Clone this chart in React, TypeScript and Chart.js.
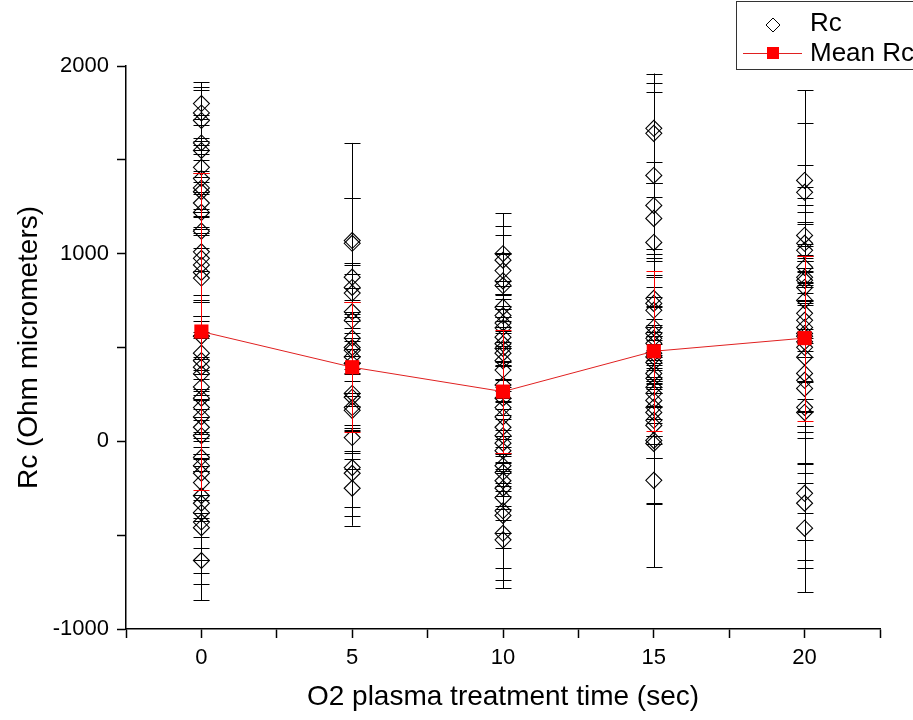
import React, { useEffect, useRef } from 'react';
import { Chart, registerables } from 'chart.js';
Chart.register(...registerables);

const times = [0, 5, 10, 15, 20];

const rc0 = [1800, 1750, 1710, 1590, 1550, 1460, 1400, 1350, 1330, 1270, 1220, 1120, 1010, 975, 940, 900, 870, 560, 470, 430, 395, 360, 290, 230, 180, 130, 75, 30, -85, -130, -170, -220, -290, -330, -380, -430, -460, -635];
const err0 = [113, 136, 160, 150, 170, 140, 180, 150, 200, 160, 190, 210, 230, 220, 200, 230, 230, 180, 200, 150, 170, 190, 160, 210, 180, 200, 170, 190, 200, 180, 210, 190, 220, 240, 250, 270, 300, 212];

const rc5 = [1070, 1055, 875, 820, 790, 690, 645, 550, 500, 485, 450, 415, 255, 235, 180, 165, 20, -140, -170, -250];
const err5 = [520, 240, 420, 130, 150, 200, 110, 190, 180, 120, 210, 160, 200, 150, 240, 260, 170, 210, 230, 200];

const rc10 = [1000, 965, 910, 855, 830, 715, 670, 630, 605, 555, 520, 495, 470, 430, 380, 300, 230, 180, 130, 75, 30, -10, -50, -130, -165, -210, -250, -300, -370, -395, -490, -525];
const err10 = [215, 185, 187, 150, 170, 140, 160, 130, 180, 150, 120, 170, 140, 160, 150, 130, 170, 150, 160, 140, 180, 150, 170, 160, 180, 150, 170, 190, 200, 282, 251, 258];

const rc15 = [1668, 1641, 1417, 1257, 1188, 1060, 762, 735, 698, 607, 575, 549, 522, 470, 450, 420, 362, 336, 288, 256, 218, 181, 154, 112, 85, 5, -11, -208];
const err15 = [292, 266, 442, 230, 190, 240, 200, 150, 180, 160, 140, 170, 130, 150, 160, 140, 180, 150, 170, 160, 190, 150, 170, 200, 175, 340, 319, 463];

const rc20 = [1390, 1327, 1097, 1055, 1018, 927, 874, 858, 820, 751, 682, 645, 607, 575, 560, 530, 501, 448, 362, 325, 282, 181, 154, -277, -330, -463];
const err20 = [480, 367, 373, 300, 280, 330, 350, 310, 340, 300, 360, 330, 380, 420, 400, 370, 420, 400, 480, 496, 506, 565, 680, 357, 347, 341];

const meanRc = [585, 395, 265, 480, 550];
const meanSd = [845, 345, 328, 427, 440];

const xTickLabels = ['0', '5', '10', '15', '20'];
const yTickLabels = ['-1000', '0', '1000', '2000'];

const FONT = "'Liberation Sans', Arial, sans-serif";

const rcGroups = [rc0, rc5, rc10, rc15, rc20];
const errGroups = [err0, err5, err10, err15, err20];

const rcPoints: { x: number; y: number }[] = [];
const rcErrs: number[] = [];
rcGroups.forEach((g, gi) => {
  g.forEach((v, k) => {
    rcPoints.push({ x: times[gi], y: v });
    rcErrs.push(errGroups[gi][k]);
  });
});
const meanPoints = times.map((t, i) => ({ x: t, y: meanRc[i] }));

function drawBars(chart: any, dsIndex: number, errs: number[], color: string, capHalf: number) {
  const ctx = chart.ctx;
  const meta = chart.getDatasetMeta(dsIndex);
  const ys = chart.scales.y;
  const data = chart.data.datasets[dsIndex].data;
  ctx.save();
  ctx.strokeStyle = color;
  ctx.lineWidth = 1;
  meta.data.forEach((el: any, k: number) => {
    const raw = data[k];
    const x = Math.round(el.x) + 0.5;
    const top = ys.getPixelForValue(raw.y + errs[k]);
    const bot = ys.getPixelForValue(raw.y - errs[k]);
    ctx.beginPath();
    ctx.moveTo(x, top);
    ctx.lineTo(x, bot);
    ctx.moveTo(x - capHalf, Math.round(top) + 0.5);
    ctx.lineTo(x + capHalf, Math.round(top) + 0.5);
    ctx.moveTo(x - capHalf, Math.round(bot) + 0.5);
    ctx.lineTo(x + capHalf, Math.round(bot) + 0.5);
    ctx.stroke();
  });
  ctx.restore();
}

const errorBarPlugin = {
  id: 'errorBars',
  beforeDatasetsDraw(chart: any) {
    drawBars(chart, 1, rcErrs, '#000000', 8);
  },
  afterDatasetDraw(chart: any, args: any) {
    if (args.index === 1) drawBars(chart, 0, meanSd, '#ff0000', 8);
  },
};

const legendPlugin = {
  id: 'customLegend',
  afterDraw(chart: any) {
    const ctx = chart.ctx;
    ctx.save();
    ctx.strokeStyle = '#333';
    ctx.lineWidth = 1;
    ctx.strokeRect(736.5, 1.5, 200, 68);
    ctx.strokeStyle = '#000';
    ctx.beginPath();
    ctx.moveTo(773 - 7, 25);
    ctx.lineTo(773, 18);
    ctx.lineTo(773 + 7, 25);
    ctx.lineTo(773, 32);
    ctx.closePath();
    ctx.stroke();
    ctx.strokeStyle = '#e02020';
    ctx.beginPath();
    ctx.moveTo(743, 53.5);
    ctx.lineTo(802, 53.5);
    ctx.stroke();
    ctx.fillStyle = '#ff0000';
    ctx.fillRect(767, 47, 12, 12);
    ctx.fillStyle = '#000';
    ctx.font = `26px ${FONT}`;
    ctx.textBaseline = 'middle';
    ctx.textAlign = 'left';
    ctx.fillText('Rc', 810, 24);
    ctx.fillText('Mean Rc', 810, 54);
    ctx.restore();
  },
};

export default function App() {
  const ref = useRef<HTMLCanvasElement | null>(null);
  useEffect(() => {
    document.body.style.margin = '0';
    const canvas = ref.current;
    if (!canvas) return;
    const chart = new Chart(canvas, {
      type: 'scatter',
      data: {
        datasets: [
          {
            label: 'Mean Rc',
            type: 'line',
            data: meanPoints,
            borderColor: '#e02020',
            borderWidth: 1,
            backgroundColor: '#ff0000',
            pointStyle: 'rect',
            pointRadius: 10,
            pointBorderWidth: 0,
            pointBackgroundColor: '#ff0000',
            showLine: true,
            fill: false,
            tension: 0,
          } as any,
          {
            label: 'Rc',
            data: rcPoints,
            pointStyle: 'rectRot',
            pointRadius: 8,
            pointBorderWidth: 1.1,
            pointBorderColor: '#000000',
            pointBackgroundColor: 'rgba(0,0,0,0)',
            showLine: false,
          } as any,
        ],
      },
      options: {
        animation: false,
        responsive: false,
        devicePixelRatio: 1,
        layout: { padding: { top: 66, right: 33, left: 0, bottom: 0 } },
        plugins: { legend: { display: false }, tooltip: { enabled: false } },
        scales: {
          x: {
            type: 'linear',
            min: -2.5,
            max: 22.5,
            afterFit: (s: any) => { s.height = 91; },
            ticks: {
              stepSize: 2.5,
              autoSkip: false,
              maxRotation: 0,
              padding: 7,
              color: '#000',
              font: { family: FONT, size: 22 },
              callback: (v: any) => (xTickLabels.includes(String(v)) ? String(v) : ''),
            },
            grid: { drawOnChartArea: false, drawTicks: true, tickLength: 9, tickColor: '#000', tickWidth: 1.5 },
            border: { display: true, color: '#000', width: 1.5 },
            title: {
              display: true,
              text: 'O2 plasma treatment time (sec)',
              color: '#000',
              font: { family: FONT, size: 28 },
              padding: { top: 0, bottom: 6 },
            },
          },
          y: {
            type: 'linear',
            min: -1000,
            max: 2000,
            afterFit: (s: any) => { s.width = 126; },
            ticks: {
              stepSize: 500,
              autoSkip: false,
              padding: 8,
              color: '#000',
              font: { family: FONT, size: 22 },
              callback: (v: any) => (yTickLabels.includes(String(v)) ? String(v) : ''),
            },
            grid: { drawOnChartArea: false, drawTicks: true, tickLength: 9, tickColor: '#000', tickWidth: 1.5 },
            border: { display: true, color: '#000', width: 1.5 },
            title: {
              display: true,
              text: 'Rc (Ohm micrometers)',
              color: '#000',
              font: { family: FONT, size: 28 },
              padding: { top: 12, bottom: 0 },
            },
          },
        },
      },
      plugins: [errorBarPlugin, legendPlugin],
    });
    return () => chart.destroy();
  }, []);
  return <canvas ref={ref} width={913} height={720} style={{ display: 'block' }} />;
}
